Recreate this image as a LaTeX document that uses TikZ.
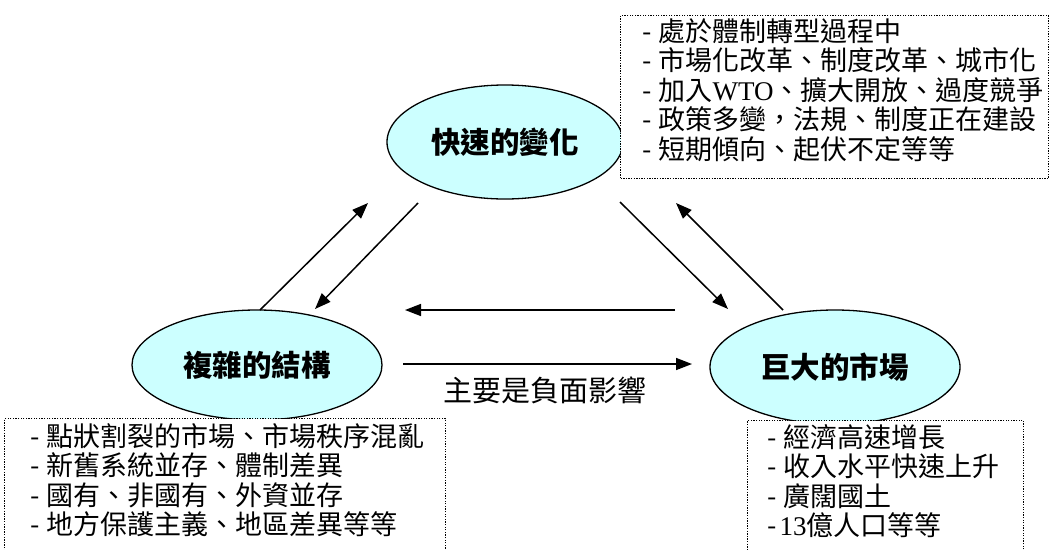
\documentclass[tikz,border=0pt]{standalone}
\usepackage{fontspec}
\setmainfont{Noto Sans CJK TC}
\newfontfamily\lat{Liberation Serif}
\usetikzlibrary{arrows.meta,shapes.geometric}
\definecolor{bubblecol}{HTML}{CCFFFF}
\begin{document}
\begin{tikzpicture}[x=1pt,y=-1pt,
  bubble/.style={ellipse, draw, line width=1.3pt, fill=bubblecol, inner sep=0pt,
                 font=\fontsize{29.5}{30}\selectfont\bfseries},
  infobox/.style={draw, dash pattern=on 1.3pt off 1.3pt, line width=1.3pt, fill=white,
                  inner sep=0pt, anchor=north west},
  listtext/.style={anchor=north west, inner sep=0pt, align=left,
                   font=\fontsize{27}{29.5}\selectfont},
  link/.style={line width=1.5pt, -{Triangle[length=16pt,width=12pt]}},
  lbl/.style={font=\fontsize{29}{30}\selectfont, inner sep=0pt}
]
\fill[white] (0,0) rectangle (1051,549);
\clip (0,0) rectangle (1051,549);

% ellipses
\node[bubble, minimum width=236pt, minimum height=114pt] (T) at (505,142) {快速的變化};
\node[bubble, minimum width=250pt, minimum height=110pt] (L) at (257,365) {複雜的結構};
\node[bubble, minimum width=250pt, minimum height=114pt] (R) at (835,367) {巨大的市場};

% info boxes
\node[infobox, minimum width=428pt, minimum height=163pt] (tb) at (620,15) {};
\node[listtext] (tbt) at (642,18) {-\hspace{7pt}處於體制轉型過程中\\-\hspace{7pt}市場化改革、制度改革、城市化\\-\hspace{7pt}加入{\lat WTO}、擴大開放、過度競爭\\-\hspace{7pt}政策多變，法規、制度正在建設\\-\hspace{7pt}短期傾向、起伏不定等等};

\node[infobox, minimum width=441pt, minimum height=170pt] (lb) at (4,418) {};
\node[listtext] (lbt) at (30,423) {-\hspace{7pt}點狀割裂的市場、市場秩序混亂\\-\hspace{7pt}新舊系統並存、體制差異\\-\hspace{7pt}國有、非國有、外資並存\\-\hspace{7pt}地方保護主義、地區差異等等};

\node[infobox, minimum width=276pt, minimum height=170pt] (rb) at (747,420) {};
\node[listtext] (rbt) at (767,424) {-\hspace{7pt}經濟高速增長\\-\hspace{7pt}收入水平快速上升\\-\hspace{7pt}廣闊國土\\-\hspace{3pt}{\lat 13}億人口等等};

% arrow end points
\coordinate (a1s) at (260,310); \coordinate (a1e) at (368,203);
\coordinate (a2s) at (418,203); \coordinate (a2e) at (315,309);
\coordinate (a3s) at (620,202); \coordinate (a3e) at (728,309);
\coordinate (a4s) at (783,310); \coordinate (a4e) at (676,203);
\coordinate (a5s) at (675,310); \coordinate (a5e) at (405,310);
\coordinate (a6s) at (403,364); \coordinate (a6e) at (692,364);

\draw[link] (a1s) -- (a1e);
\draw[link] (a2s) -- (a2e);
\draw[link] (a3s) -- (a3e);
\draw[link] (a4s) -- (a4e);
\draw[link] (a5s) -- (a5e);
\draw[link] (a6s) -- (a6e);

\node[lbl] (neg) at (545,390) {主要是負面影響};
\end{tikzpicture}
\end{document}
